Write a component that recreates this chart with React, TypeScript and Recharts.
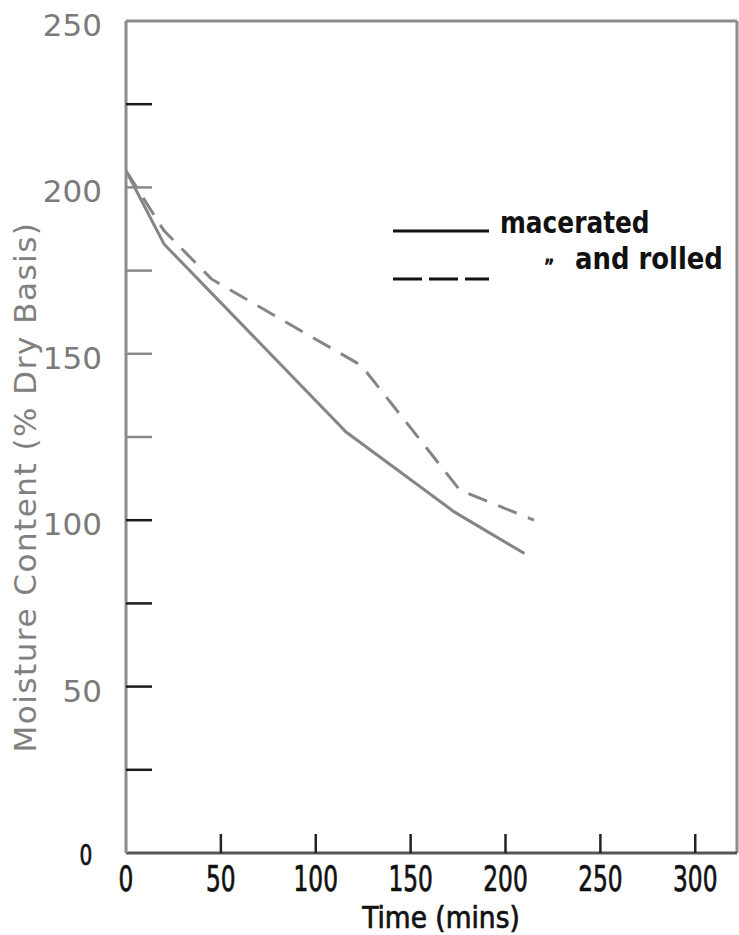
import { LineChart, Line, XAxis, YAxis, ReferenceLine } from "recharts";

/* ---------- DATA ---------- */

const maceratedTime = [0, 20, 116, 173, 210];
const maceratedMoisture = [205, 183, 126.5, 102.5, 90];

const rolledTime = [0, 20, 45, 60, 124, 176, 215];
const rolledMoisture = [205, 187, 172.5, 167.5, 146.5, 109, 100];

const xTicks = [0, 50, 100, 150, 200, 250, 300];
const yTicks = [0, 25, 50, 75, 100, 125, 150, 175, 200, 225, 250];

const seriesNames = ["macerated", "and rolled"];

const maceratedData = maceratedTime.map((t, i) => ({ t, v: maceratedMoisture[i] }));
const rolledData = rolledTime.map((t, i) => ({ t, v: rolledMoisture[i] }));

const X_MAX = 322;
const Y_MAX = 250;

const LINE = "#858585";
const FRAME = "#8c8c8c";
const LETTER = "'DejaVu Sans Condensed', 'DejaVu Sans', sans-serif";

/* narrow stencil-like lettering: squeeze horizontally around (x, y) */
function Narrow({ x, y, size, squeeze, anchor = "middle", weight = "normal", thick = 0.7, children }: any) {
  return (
    <text
      transform={`translate(${x} ${y}) scale(${squeeze} 1)`}
      textAnchor={anchor}
      dominantBaseline="central"
      fontFamily={LETTER}
      fontWeight={weight}
      fontSize={size}
      fill="#111"
      stroke="#111"
      strokeWidth={thick}
    >
      {children}
    </text>
  );
}

/* ---------- TICKS ---------- */

function XTick({ x, y, payload }: any) {
  return (
    <g>
      {payload.value !== 0 && (
        <line x1={x} x2={x} y1={y} y2={y - 19} stroke="#222" strokeWidth={2.5} />
      )}
      <Narrow x={x} y={y + 25} size={35} squeeze={0.74}>
        {payload.value}
      </Narrow>
    </g>
  );
}

function YTick({ x, y, payload }: any) {
  const v = payload.value;
  const dark = v === 225 || v <= 100;
  return (
    <g>
      {v !== 0 && v !== 250 && (
        <line x1={x} x2={x + 26} y1={y} y2={y} stroke={dark ? "#1a1a1a" : "#8a8a8a"} strokeWidth={2.5} />
      )}
      {v % 50 === 0 && v !== 0 && (
        <text
          x={x - 24}
          y={y + 4}
          textAnchor="end"
          dominantBaseline="central"
          fontFamily="'DejaVu Sans', sans-serif"
          fontSize={31}
          fill="#7a7a7a"
        >
          {v}
        </text>
      )}
      {v === 0 && (
        <Narrow x={x - 40} y={y + 2} size={28} squeeze={0.8}>
          0
        </Narrow>
      )}
    </g>
  );
}

/* ---------- KEY ---------- */

function Key() {
  return (
    <svg
      width={345}
      height={90}
      style={{ position: "absolute", left: 392, top: 205, overflow: "visible" }}
    >
      <line x1={1} x2={97} y1={26} y2={26} stroke="#111" strokeWidth={3} />
      <Narrow x={108} y={18} size={30} squeeze={0.92} anchor="start" weight="bold" thick={0}>
        {seriesNames[0]}
      </Narrow>
      <line x1={1} x2={97} y1={74} y2={74} stroke="#111" strokeWidth={3} strokeDasharray="29 7" />
      <Narrow x={152} y={62} size={22} squeeze={1} anchor="start" thick={1}>
        {"\u201D"}
      </Narrow>
      <Narrow x={183} y={54} size={30} squeeze={0.96} anchor="start" weight="bold" thick={0}>
        {seriesNames[1]}
      </Narrow>
    </svg>
  );
}

/* ---------- CHART ---------- */

export default function App() {
  return (
    <div style={{ position: "absolute", left: 0, top: 0, width: 739, height: 935, background: "#fff" }}>
      <LineChart
        width={739}
        height={935}
        margin={{ top: 21, right: 2, bottom: 0, left: 0 }}
      >
        <XAxis
          dataKey="t"
          type="number"
          domain={[0, X_MAX]}
          ticks={xTicks}
          interval={0}
          allowDataOverflow
          axisLine={{ stroke: "#555", strokeWidth: 3 }}
          tickLine={false}
          tickSize={0}
          tickMargin={0}
          tick={<XTick />}
          height={82}
          label={{
            content: ({ viewBox }: any) => (
              <Narrow x={viewBox.x + 315} y={viewBox.y + 64} size={31} squeeze={0.95}>
                Time (mins)
              </Narrow>
            ),
          }}
        />
        <YAxis
          type="number"
          domain={[0, Y_MAX]}
          ticks={yTicks}
          interval={0}
          width={126}
          axisLine={{ stroke: FRAME, strokeWidth: 3 }}
          tickLine={false}
          tickSize={0}
          tickMargin={0}
          tick={<YTick />}
          label={{
            content: ({ viewBox }: any) => {
              const cx = viewBox.x + 25;
              const cy = viewBox.y + viewBox.height / 2 + 50;
              return (
                <text
                  x={cx}
                  y={cy}
                  transform={`rotate(-90 ${cx} ${cy})`}
                  textAnchor="middle"
                  dominantBaseline="central"
                  fontFamily="'DejaVu Sans', sans-serif"
                  fontSize={31}
                  letterSpacing={1.5}
                  fill="#808080"
                >
                  Moisture Content (% Dry Basis)
                </text>
              );
            },
          }}
        />
        {/* frame: top and right edges */}
        <ReferenceLine y={Y_MAX} stroke={FRAME} strokeWidth={3} ifOverflow="visible" />
        <ReferenceLine x={X_MAX} stroke={FRAME} strokeWidth={3} ifOverflow="visible" />
        <Line
          data={maceratedData}
          dataKey="v"
          name={seriesNames[0]}
          type="linear"
          stroke={LINE}
          strokeWidth={3}
          dot={false}
          isAnimationActive={false}
        />
        <Line
          data={rolledData}
          dataKey="v"
          name={seriesNames[1]}
          type="linear"
          stroke={LINE}
          strokeWidth={3}
          strokeDasharray="20 12"
          dot={false}
          isAnimationActive={false}
        />
      </LineChart>
      <Key />
    </div>
  );
}
